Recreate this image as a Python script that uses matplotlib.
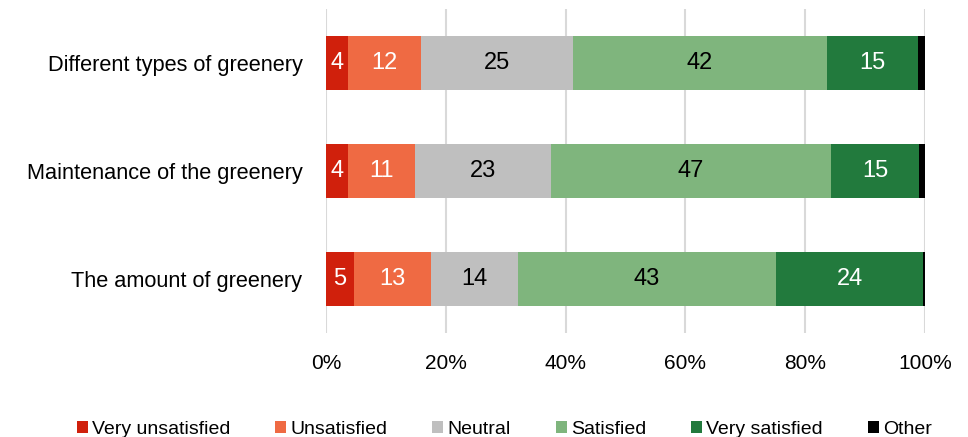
import matplotlib
matplotlib.use("Agg")
import matplotlib.pyplot as plt
import numpy as np

categories = ["Different types of greenery", "Maintenance of the greenery", "The amount of greenery"]
series_names = ["Very unsatisfied", "Unsatisfied", "Neutral", "Satisfied", "Very satisfied", "Other"]
very_unsatisfied = [3.6, 3.6, 4.6]
unsatisfied = [12.2, 11.3, 13.0]
neutral = [25.4, 22.6, 14.4]
satisfied = [42.4, 46.8, 43.2]
very_satisfied = [15.2, 14.7, 24.4]
other = [1.2, 1.0, 0.4]
tick_labels = ["0%", "20%", "40%", "60%", "80%", "100%"]

series = [very_unsatisfied, unsatisfied, neutral, satisfied, very_satisfied, other]
colors = ["#D0200C", "#EF6A43", "#BFBFBF", "#7FB57D", "#227A3D", "#000000"]
label_colors = ["white", "white", "black", "black", "white", None]

plt.rcParams['font.family'] = ['Liberation Sans', 'DejaVu Sans']

fig = plt.figure(figsize=(9.68, 4.37), dpi=100)
ax = fig.add_axes([326/968, 1-333/437, 599/968, 324/437])

y = np.arange(len(categories))[::-1]
left = np.zeros(len(categories))
for vals, name, c, lc in zip(series, series_names, colors, label_colors):
    vals = np.array(vals)
    ax.barh(y, vals, left=left, height=0.5, color=c, label=name, zorder=3)
    if lc is not None:
        for yy, l, v in zip(y, left, vals):
            ax.text(l + v/2, yy, f"{v:.0f}", ha="center", va="center",
                    color=lc, fontsize=17, zorder=4)
    left += vals

ax.set_xlim(0, 100)
ax.set_ylim(-0.5, 2.5)
ax.set_xticks(np.linspace(0, 100, 6))
ax.set_xticklabels(tick_labels, fontsize=15)
ax.set_yticks(y)
ax.set_yticklabels(categories, fontsize=15.7)
ax.tick_params(axis='both', length=0)
ax.tick_params(axis='x', pad=15)
ax.tick_params(axis='y', pad=17)
ax.grid(axis='x', color='#D9D9D9', linewidth=1.5, zorder=0)
for s in ax.spines.values():
    s.set_visible(False)

leg = fig.legend(loc='lower center', bbox_to_anchor=(0.521, -0.043), ncol=6,
                 frameon=False, fontsize=14, handlelength=0.57, handleheight=0.57,
                 handletextpad=0.22, columnspacing=2.3)

fig.savefig("out.png", dpi=100)
